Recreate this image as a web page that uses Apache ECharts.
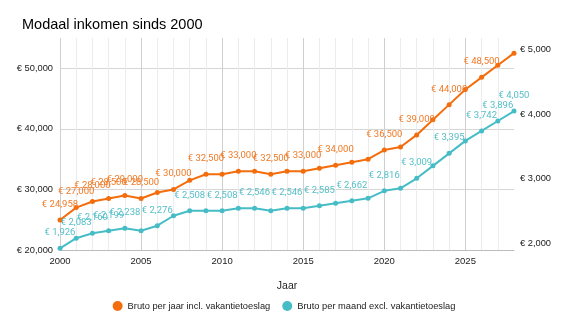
<!DOCTYPE html>
<html>
<head>
<meta charset="utf-8">
<script src="https://cdn.jsdelivr.net/npm/echarts@6/dist/echarts.min.js"></script>
<style>
  html, body { margin: 0; padding: 0; background: #fff; }
  #chart { width: 568px; height: 328px; }
</style>
</head>
<body>
<div id="chart"></div>
<script>
// Jaren en bedragen
const years = [2000, 2001, 2002, 2003, 2004, 2005, 2006, 2007, 2008, 2009,
  2010, 2011, 2012, 2013, 2014, 2015, 2016, 2017, 2018, 2019,
  2020, 2021, 2022, 2023, 2024, 2025, 2026, 2027, 2028];

// Bruto per jaar incl. vakantietoeslag (linkeras)
const brutoJaar = [24958, 27000, 28000, 28500, 29000, 28500, 29500, 30000, 31500, 32500,
  32500, 33000, 33000, 32500, 33000, 33000, 33500, 34000, 34500, 35000,
  36500, 37000, 39000, 41500, 44000, 46500, 48500, 50500, 52500];

// Bruto per maand excl. vakantietoeslag (rechteras)
const brutoMaand = [1926, 2083, 2160, 2199, 2238, 2199, 2276, 2430, 2508, 2508,
  2508, 2546, 2546, 2508, 2546, 2546, 2585, 2624, 2662, 2700,
  2816, 2855, 3009, 3202, 3395, 3588, 3742, 3896, 4050];

// Jaren waarbij het bedrag als label wordt getoond
const labelJarenJaar = [2000, 2001, 2002, 2003, 2004, 2005, 2007, 2009, 2011, 2013, 2015, 2017, 2020, 2022, 2024, 2026];
const labelJarenMaand = [2000, 2001, 2002, 2003, 2004, 2006, 2008, 2010, 2012, 2014, 2016, 2018, 2020, 2022, 2024, 2026, 2027, 2028];

const leftTicks = [20000, 30000, 40000, 50000];
const rightTicks = [2000, 3000, 4000, 5000];
const xTicks = [2000, 2005, 2010, 2015, 2020, 2025];

const euro = v => '€ ' + v.toLocaleString('en-US');

const ORANGE = '#f46d0c';
const TEAL = '#46bdc6';
const SANS = '"Liberation Sans", Arial, sans-serif';
const LABELFONT = 'Roboto';

function points(values, labelYears) {
  return years.map((y, i) => ({
    value: [y, values[i]],
    label: { show: labelYears.includes(y) }
  }));
}

const chart = echarts.init(document.getElementById('chart'), null, { renderer: 'canvas' });

chart.setOption({
  animation: false,
  backgroundColor: '#fff',
  textStyle: { fontFamily: SANS },
  title: {
    text: 'Modaal inkomen sinds 2000',
    left: 17,
    top: 12,
    textStyle: { fontFamily: SANS, fontSize: 14.5, fontWeight: 'normal', color: '#000' }
  },
  grid: { left: 60, right: 54, top: 38, bottom: 78, containLabel: false },
  legend: {
    bottom: 12,
    left: 'center',
    icon: 'circle',
    itemWidth: 10,
    itemHeight: 10,
    itemGap: 12,
    textStyle: { fontFamily: SANS, fontSize: 9.3, color: '#222' },
    data: ['Bruto per jaar incl. vakantietoeslag', 'Bruto per maand excl. vakantietoeslag']
  },
  xAxis: {
    type: 'value',
    min: 2000,
    max: 2028,
    interval: 1,
    name: 'Jaar',
    nameLocation: 'middle',
    nameGap: 31,
    nameTextStyle: { fontFamily: SANS, fontSize: 10.5, color: '#222' },
    axisLine: { show: true, lineStyle: { color: '#bbb', width: 1 } },
    axisTick: { show: false },
    axisLabel: {
      fontFamily: SANS, fontSize: 9.5, color: '#222', margin: 6,
      showMaxLabel: false,
      formatter: v => xTicks.includes(v) ? String(v) : ''
    },
    splitLine: {
      show: true,
      showMaxLine: false,
      lineStyle: { color: ['#cfcfcf', '#ececec', '#ececec', '#ececec', '#ececec'], width: 1 }
    }
  },
  yAxis: [
    {
      type: 'value',
      min: 20000,
      max: 55000,
      interval: 10000,
      position: 'left',
      axisLine: { show: false },
      axisTick: { show: false },
      axisLabel: {
        fontFamily: SANS, fontSize: 9.3, color: '#222', margin: 7,
        showMaxLabel: false,
        formatter: v => leftTicks.includes(v) ? euro(v) : ''
      },
      splitLine: { show: true, showMaxLine: false, lineStyle: { color: '#d6d6d6', width: 1 } }
    },
    {
      type: 'value',
      min: 1900,
      max: 5180,
      interval: 100,
      position: 'right',
      axisLine: { show: false },
      axisTick: { show: false },
      axisLabel: {
        fontFamily: SANS, fontSize: 9.3, color: '#222', margin: 6,
        showMaxLabel: false,
        formatter: v => rightTicks.includes(v) ? euro(v) : ''
      },
      splitLine: { show: false }
    }
  ],
  series: [
    {
      name: 'Bruto per jaar incl. vakantietoeslag',
      type: 'line',
      yAxisIndex: 0,
      data: points(brutoJaar, labelJarenJaar),
      color: ORANGE,
      symbol: 'circle',
      symbolSize: 5,
      lineStyle: { width: 2, color: ORANGE },
      itemStyle: { color: ORANGE },
      label: {
        position: 'top',
        distance: 8,
        fontFamily: LABELFONT,
        fontSize: 9.5,
        color: '#f07a26',
        formatter: p => euro(p.value[1])
      },
      labelLayout: { hideOverlap: false },
      z: 3
    },
    {
      name: 'Bruto per maand excl. vakantietoeslag',
      type: 'line',
      yAxisIndex: 1,
      data: points(brutoMaand, labelJarenMaand),
      color: TEAL,
      symbol: 'circle',
      symbolSize: 5,
      lineStyle: { width: 2, color: TEAL },
      itemStyle: { color: TEAL },
      label: {
        position: 'top',
        distance: 8,
        fontFamily: LABELFONT,
        fontSize: 9.5,
        color: '#55bfc8',
        formatter: p => euro(p.value[1])
      },
      labelLayout: { hideOverlap: false },
      z: 3
    }
  ]
});
</script>
</body>
</html>
